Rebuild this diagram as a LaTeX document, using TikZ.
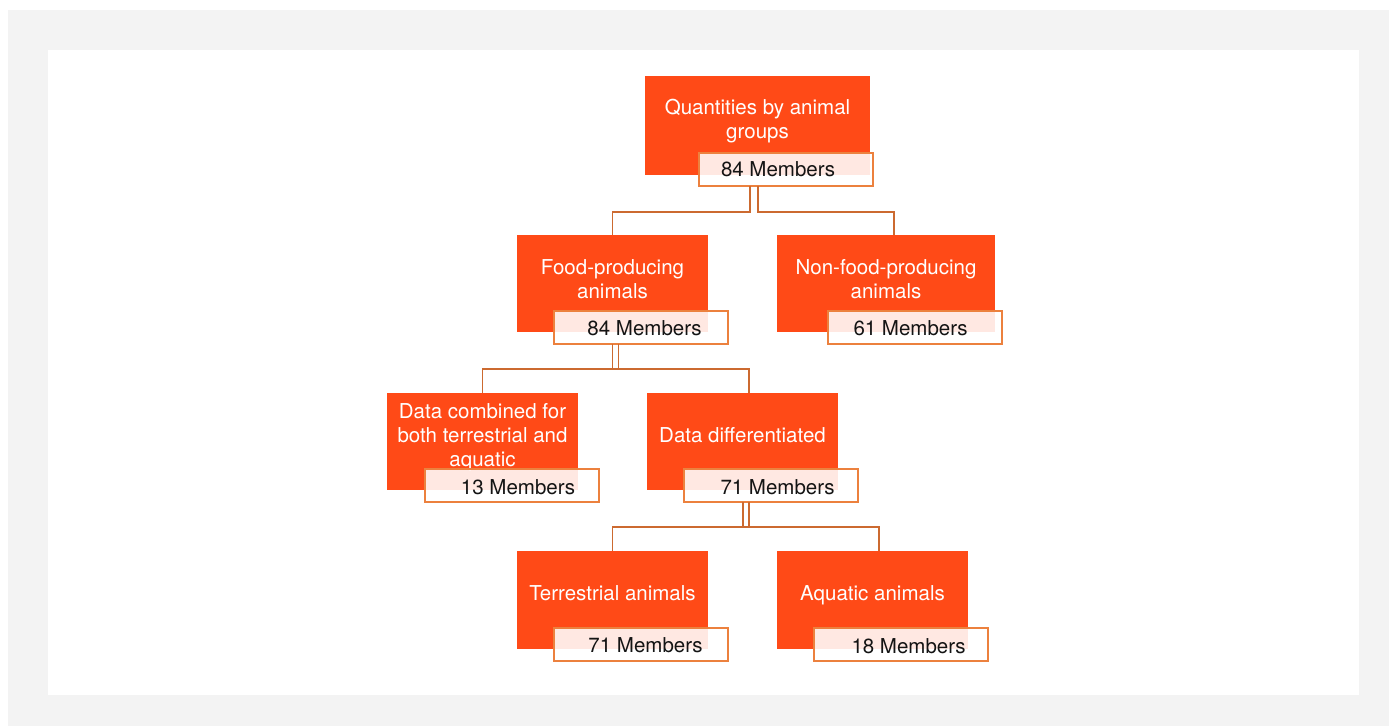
\documentclass[tikz,border=0pt]{standalone}
\usepackage{fontspec}
\setmainfont{TeX Gyre Heros}
\usetikzlibrary{calc}
\definecolor{pagegray}{RGB}{243,243,243}
\definecolor{grpfill}{RGB}{255,74,23}
\definecolor{tagline}{RGB}{236,129,62}
\definecolor{wire}{RGB}{204,106,48}
\definecolor{ink}{RGB}{20,20,20}
\begin{document}
\begin{tikzpicture}[x=1bp,y=-1bp,
  grp/.style={fill=grpfill, draw=none, anchor=north west, inner sep=0pt, outer sep=0pt},
  tag/.style={fill=white, fill opacity=0.88, draw=tagline, line width=1.6bp,
    anchor=north west, inner sep=0pt, outer sep=0pt,
    minimum width=174bp, minimum height=33bp},
  grptext/.style={text=white, align=center, inner sep=0pt,
    font=\fontsize{20.5bp}{24bp}\selectfont},
  counttext/.style={text=ink, inner sep=0pt,
    font=\fontsize{20.5bp}{24bp}\selectfont},
  wire/.style={draw=wire, line width=1.6bp}]

% page and panel
\fill[white] (0,0) rectangle (1389,726);
\fill[pagegray] (8,10) rectangle (1389,726);
\fill[white] (48,50) rectangle (1359,695);
\useasboundingbox (0,0) rectangle (1389,726);

% group boxes
\node[grp, minimum width=225bp, minimum height=99bp] (root) at (645,76) {};
\node[grp, minimum width=191bp, minimum height=97bp] (food) at (517,235) {};
\node[grp, minimum width=218bp, minimum height=97bp] (nonfood) at (777,235) {};
\node[grp, minimum width=191bp, minimum height=97bp] (comb) at (387,393) {};
\node[grp, minimum width=191bp, minimum height=97bp] (diff) at (647,393) {};
\node[grp, minimum width=191bp, minimum height=98bp] (terr) at (517,551) {};
\node[grp, minimum width=191bp, minimum height=98bp] (aqua) at (777,551) {};

% group titles
\node[grptext] (root-t) at (757.5,121) {Quantities by animal\\groups};
\node[grptext] (food-t) at (612.5,279) {Food-producing\\animals};
\node[grptext] (nonfood-t) at (886,279) {Non-food-producing\\animals};
\node[grptext] (comb-t) at (482.5,437) {Data combined for\\both terrestrial and\\aquatic};
\node[grptext] (diff-t) at (742.5,435) {Data differentiated};
\node[grptext] (terr-t) at (612.5,593) {Terrestrial animals};
\node[grptext] (aqua-t) at (872.5,595) {Aquatic animals};

% member count tags
\node[tag] (root-m) at (699,153) {};
\node[tag] (food-m) at (554,311) {};
\node[tag] (nonfood-m) at (828,311) {};
\node[tag] (comb-m) at (425,469) {};
\node[tag] (diff-m) at (684,469) {};
\node[tag] (terr-m) at (554,628) {};
\node[tag] (aqua-m) at (814,628) {};

\node[counttext] (root-c) at (778,169.5) {84 Members};
\node[counttext] (food-c) at (644.5,328) {84 Members};
\node[counttext] (nonfood-c) at (910.5,328) {61 Members};
\node[counttext] (comb-c) at (518,487.5) {13 Members};
\node[counttext] (diff-c) at (777.5,487.5) {71 Members};
\node[counttext] (terr-c) at (645.5,645.5) {71 Members};
\node[counttext] (aqua-c) at (908.5,646) {18 Members};

% connectors
\draw[wire] ([xshift=-36bp]root-m.south) -- ++(0,26) -| (food.north);
\draw[wire] ([xshift=-28bp]root-m.south) -- ++(0,26) -| ([xshift=8bp]nonfood.north);
\draw[wire] ([xshift=-28.5bp]food-m.south) -- ++(0,25) -| (comb.north);
\draw[wire] ([xshift=-22.5bp]food-m.south) -- ++(0,25) -- ++(-6,0);
\draw[wire] ([xshift=-22.5bp]food-m.south) -- ++(0,25) -| ([xshift=6.5bp]diff.north);
\draw[wire] ([xshift=-28bp]diff-m.south) -- ++(0,25) -| (terr.north);
\draw[wire] ([xshift=-22bp]diff-m.south) -- ++(0,25) -- ++(-6,0);
\draw[wire] ([xshift=-22bp]diff-m.south) -- ++(0,25) -| ([xshift=6.5bp]aqua.north);
\end{tikzpicture}
\end{document}
